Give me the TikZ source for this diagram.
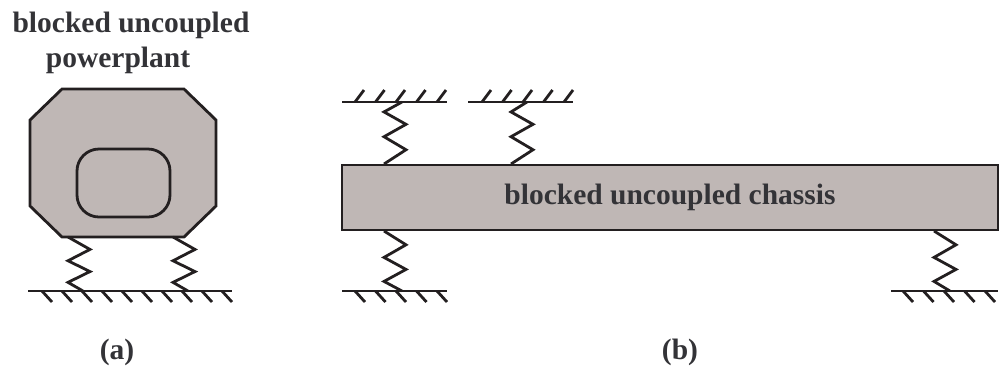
\documentclass[tikz,border=0pt]{standalone}
\usepackage{fontspec}
\setmainfont{Liberation Serif}
\usepackage{tikz}
\usetikzlibrary{calc}
\usepackage{xcolor}

\definecolor{linegray}{RGB}{35,31,32}
\definecolor{bodyfill}{RGB}{191,183,181}
\definecolor{textgray}{RGB}{51,51,55}

% zigzag spring from the body point #1 to the ground point #2
\newcommand{\spring}[2]{%
  \draw[spring] let \p1=(#1), \p2=(#2), \n1={\y2-\y1} in
    (\p1) -- (\x1+11pt,\y1+0.23*\n1) -- (\x1,\y1+0.44*\n1)
    -- (\x1+11pt,\y1+0.64*\n1) -- (\x1,\y1+0.84*\n1) -- (\p2);}

\begin{document}
\begin{tikzpicture}[x=0.5pt,y=-0.5pt,line join=miter,
  body/.style={draw=linegray,fill=bodyfill,line width=1.4pt},
  spring/.style={draw=linegray,line width=1.4pt},
  ground/.style={draw=linegray,line width=1.4pt},
  tag/.style={font=\bfseries\fontsize{14.75}{17}\selectfont,
    text=textgray,inner sep=0pt}]

  \useasboundingbox (0,0) rectangle (999,371);

  % (a) powerplant
  \node[tag,anchor=base] (ppname) at (131,32) {blocked uncoupled};
  \node[tag,anchor=base] (ppname2) at (118,67) {powerplant};
  \draw[body] (30,120) -- (62,89) -- (184,89) -- (216,120)
    -- (216,206) -- (184,237) -- (62,237) -- (30,206) -- cycle;
  \draw[body,rounded corners=11pt] (77,149) rectangle (170,217);

  \coordinate (ppL) at (68,237);
  \coordinate (ppR) at (173,237);
  \coordinate (gppL) at (83,291);
  \coordinate (gppR) at (188,291);
  \spring{ppL}{gppL}
  \spring{ppR}{gppR}

  \draw[ground] (28,291) -- (232,291);
  \foreach \x in {42,62,...,222}
    \draw[ground] (\x,291) -- ++(10,11);

  \node[tag,anchor=base] (capa) at (117,359) {(a)};

  % (b) chassis
  \node[body,tag,line width=1pt,minimum width=328pt,minimum height=32.5pt]
    (chassis) at (670,197.5) {blocked uncoupled chassis};

  \coordinate (chTL) at ($(chassis.north west)+(43,0)$);
  \coordinate (chTR) at ($(chassis.north west)+(170,0)$);
  \coordinate (chBL) at ($(chassis.south west)+(43,0)$);
  \coordinate (chBR) at ($(chassis.south east)+(-65,0)$);
  \coordinate (gTL) at (402,102);
  \coordinate (gTR) at (527,102);
  \coordinate (gBL) at (402,291);
  \coordinate (gBR) at (950,291);
  \spring{chTL}{gTL}
  \spring{chTR}{gTR}
  \spring{chBL}{gBL}
  \spring{chBR}{gBR}

  \draw[ground] (342,102) -- (447,102);
  \draw[ground] (468,102) -- (573,102);
  \foreach \x in {355,375.5,...,438}
    \draw[ground] (\x,102) -- ++(9,-12);
  \foreach \x in {482,502.5,...,565}
    \draw[ground] (\x,102) -- ++(9,-12);

  \draw[ground] (342,291) -- (447,291);
  \draw[ground] (891,291) -- (998,291);
  \foreach \x in {355,375.5,...,438}
    \draw[ground] (\x,291) -- ++(10,11);
  \foreach \x in {903,923.5,...,986}
    \draw[ground] (\x,291) -- ++(10,11);

  \node[tag,anchor=base] (capb) at (680,359) {(b)};
\end{tikzpicture}
\end{document}
